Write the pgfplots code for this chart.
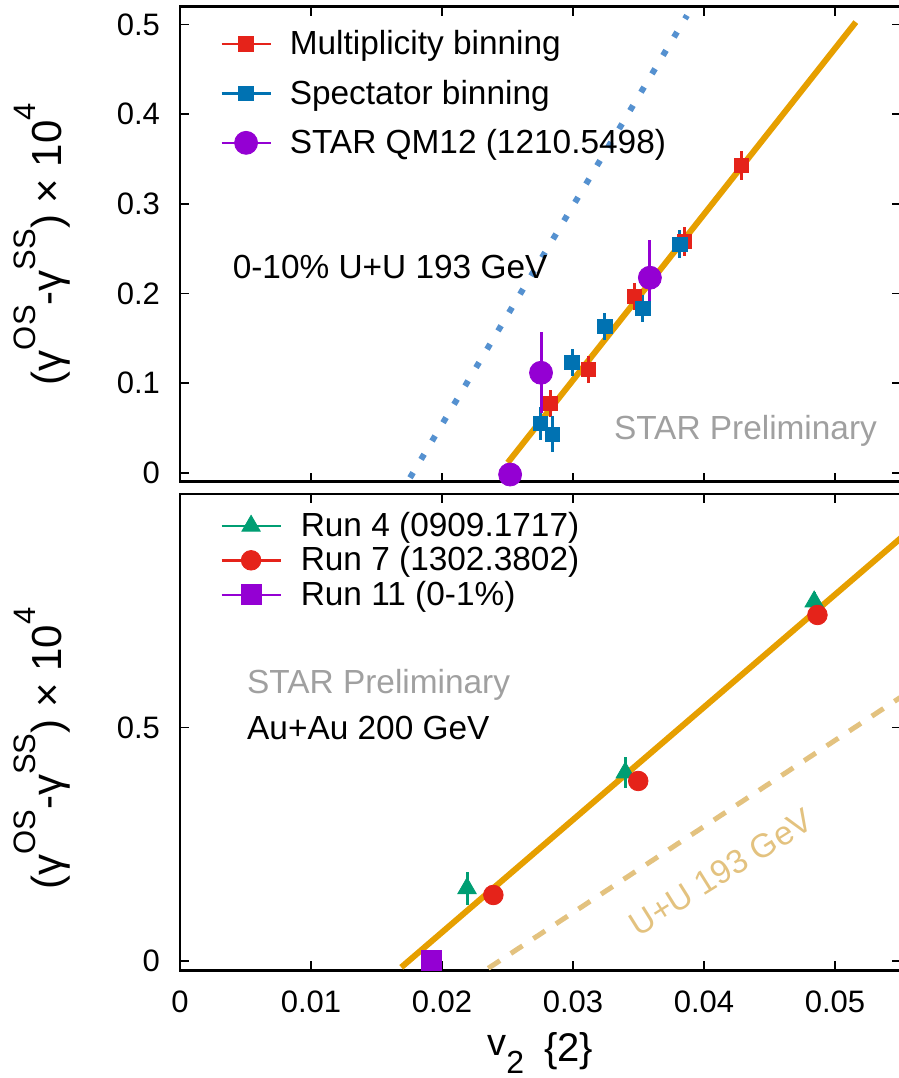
\documentclass[border=0pt]{standalone}
\usepackage{pgfplots}
\pgfplotsset{compat=1.18}
\usepackage{fontspec}
\setmainfont{Liberation Sans}
\definecolor{cred}{HTML}{E5231A}
\definecolor{cblue}{HTML}{0072B2}
\definecolor{cpurple}{HTML}{9400D3}
\definecolor{cgreen}{HTML}{009E73}
\definecolor{corange}{HTML}{E69F00}
\definecolor{cdot}{HTML}{5591D0}
\definecolor{ctan}{HTML}{E3C27F}
\definecolor{cgray}{HTML}{A0A0A0}
\newcommand{\sups}[1]{\raisebox{0.62em}{\fontsize{15.5}{16}\selectfont #1}}
\newcommand{\lfont}{\fontsize{16.7}{18}\selectfont}
\pgfplotsset{
  base/.style={
    scale only axis, width=360.25pt,
    xmin=0, xmax=0.055,
    xtick={0,0.01,0.02,0.03,0.04,0.05},
    scaled ticks=false,
    tick align=inside,
    major tick length=4.5pt,
    every tick/.style={black, line width=0.8pt},
    axis line style={line width=1.2pt},
    tick label style={font=\fontsize{15.5}{16}\selectfont},
    /pgf/number format/assume math mode=true,
    yticklabel style={xshift=-6.5pt},
    ylabel style={font=\fontsize{21}{22}\selectfont, anchor=center},
    clip=true,
    legend cell align=left,
  },
  legline/.style={legend image code/.code={
      \draw[##1,line width=1.2pt,mark=none] (0pt,0pt) -- (#1,0pt);
      \draw[##1] plot coordinates {(#1/2,0pt)};}},
  ebar/.style={error bars/y dir=both, error bars/y explicit, error bars/error mark=none,
     error bars/error bar style={line width=1.5pt}},
}
\begin{document}
\begin{tikzpicture}
% ---------------- top panel ----------------
\begin{axis}[base,
  at={(90pt,298.15pt)}, anchor=south west, height=237.6pt,
  ymin=-0.01, ymax=0.52,
  ytick={0,0.1,0.2,0.3,0.4,0.5}, yticklabels={0,0.1,0.2,0.3,0.4,0.5},
  xticklabels={},
  ylabel={(γ\sups{OS}-γ\sups{SS}) × 10\sups{4}},
  ylabel style={at={(axis description cs:-0.1915,0.5)}},
  legend style={at={(axis description cs:0.0555,0.9505)}, anchor=north west, draw=none, fill=none,
     font=\lfont, inner sep=0pt, row sep=11.1pt, column sep=9pt,
     nodes={inner sep=0pt}},
]
\addplot[corange, line width=3pt, forget plot] coordinates {(0.02502,0.0112) (0.05159,0.5026)};
\addplot[cdot, line width=3pt, dash pattern=on 3pt off 7.7pt, forget plot] coordinates {(0.01756,-0.0056) (0.0387,0.5100)};
\addplot[cred, only marks, mark=square*, mark size=3.6pt, ebar, legline=24.5pt] table[x index=0, y index=1, y error index=2]{
0.02827 0.077 0.015
0.03117 0.115 0.015
0.0347  0.197 0.015
0.03852 0.258 0.016
0.04286 0.343 0.016
};
\addlegendentry{Multiplicity binning}
\addplot[cblue, only marks, mark=square*, mark size=3.6pt, ebar, legline=24.5pt] table[x index=0, y index=1, y error index=2]{
0.02749 0.055 0.018
0.02845 0.043 0.020
0.02993 0.123 0.015
0.03244 0.163 0.015
0.03534 0.183 0.015
0.03816 0.255 0.016
};
\addlegendentry{Spectator binning}
\addplot[cpurple, only marks, mark=*, mark size=5.75pt, ebar, legline=24.5pt] table[x index=0, y index=1, y error index=2]{
0.0252  -0.002 0.005
0.02756 0.1115 0.045
0.03587 0.2175 0.042
};
\addlegendentry{STAR QM12 (1210.5498)}
\node[anchor=base west, font=\lfont, inner sep=0pt] at (axis cs:0.0040,0.2169) {0-10\% U+U 193 GeV};
\node[anchor=base west, font=\lfont, inner sep=0pt, text=cgray] at (axis cs:0.0331,0.0371) {STAR Preliminary};
\end{axis}
% ---------------- bottom panel ----------------
\begin{axis}[base,
  at={(90pt,53.85pt)}, anchor=south west, height=238pt,
  ymin=-0.02, ymax=1.0,
  ytick={0,0.5,1}, yticklabels={0,0.5,},
  xticklabels={0,0.01,0.02,0.03,0.04,0.05},
  xticklabel style={yshift=-6.5pt},
  xlabel={\raisebox{3pt}{\fontsize{19}{19}\selectfont v}\raisebox{-6pt}{\fontsize{16}{16}\selectfont 2}\hspace{10pt}{\fontsize{20}{22}\selectfont\{2\}}},
  xlabel style={at={(axis description cs:0.5,-0.1737)}, anchor=center},
  ylabel={(γ\sups{OS}-γ\sups{SS}) × 10\sups{4}},
  ylabel style={at={(axis description cs:-0.1915,0.466)}},
  legend style={at={(axis description cs:0.0555,0.963)}, anchor=north west, draw=none, fill=none,
     font=\lfont, inner sep=0pt, row sep=3.6pt, column sep=9.5pt,
     nodes={inner sep=0pt}},
]
\addplot[corange, line width=3pt, forget plot] coordinates {(0.01689,-0.0136) (0.0552,0.9104)};
\addplot[ctan, line width=2.5pt, dash pattern=on 7pt off 6.5pt, forget plot] coordinates {(0.02353,-0.0157) (0.0552,0.5686)};
\addplot[cgreen, only marks, mark=triangle*, mark size=5.3pt, ebar, legline=29.5pt] table[x index=0, y index=1, y error index=2]{
0.02191 0.1557 0.035
0.03399 0.4036 0.033
0.04841 0.770  0.020
};
\addlegendentry{Run 4 (0909.1717)}
\addplot[cred, only marks, mark=*, mark size=4.9pt, ebar, legline=29.5pt] table[x index=0, y index=1, y error index=2]{
0.02392 0.1414 0.01
0.03498 0.3857 0.01
0.04866 0.7414 0.01
};
\addlegendentry{Run 7 (1302.3802)}
\addplot[cpurple, only marks, mark=square*, mark size=5pt, ebar, legline=29.5pt] table[x index=0, y index=1, y error index=2]{
0.01919 0.002 0.022
};
\addlegendentry{Run 11 (0-1\%)}
\node[anchor=base west, font=\lfont, inner sep=0pt, text=cgray] at (axis cs:0.0051,0.5725) {STAR Preliminary};
\node[anchor=base west, font=\lfont, inner sep=0pt] at (axis cs:0.0051,0.474) {Au+Au 200 GeV};
\node[font=\lfont, text=ctan, rotate=32] at (axis cs:0.0413,0.19) {U+U 193 GeV};
\end{axis}
\pgfresetboundingbox
\path[use as bounding box] (0,0) rectangle (449.5pt,539pt);
\end{tikzpicture}
\end{document}
